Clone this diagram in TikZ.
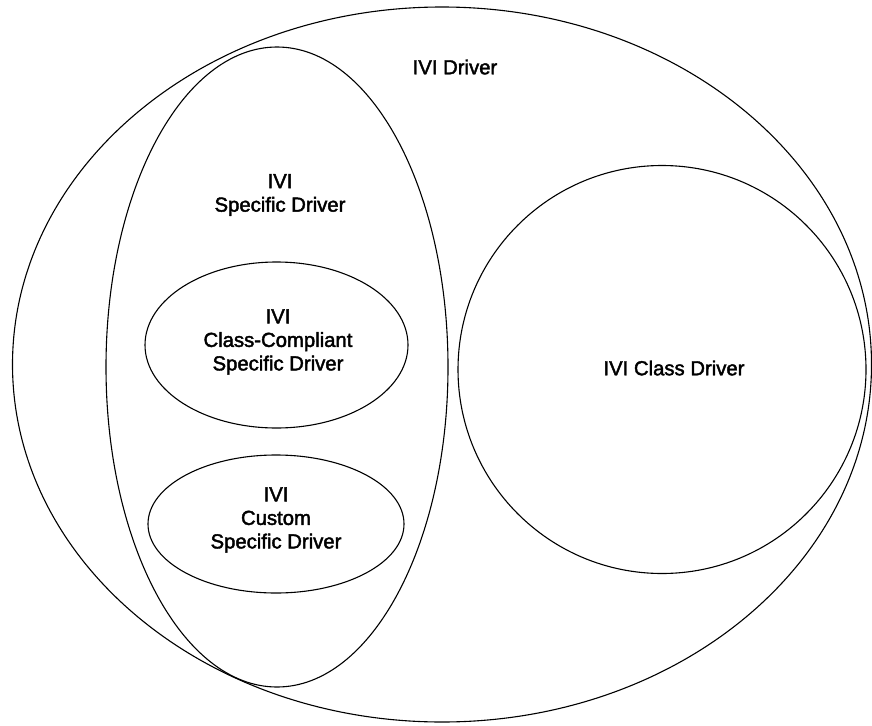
\documentclass[tikz,border=0pt]{standalone}
\usepackage{fontspec}
\setmainfont{Liberation Sans}
\newfontfamily\lblfont[FakeBold=2]{Liberation Sans}
\usetikzlibrary{shapes.geometric}
\tikzset{
  oval/.style={ellipse, draw=black, line width=1.1pt, inner sep=0pt, fill=none},
  lbl/.style={align=center, inner sep=0pt, font=\lblfont\fontsize{20.3}{23.5}\selectfont}
}
\begin{document}
\begin{tikzpicture}[x=1pt,y=-1pt]
\useasboundingbox (0,0) rectangle (872,725);
\fill[white] (0,0) rectangle (872,725);
\node[oval, minimum width=859pt, minimum height=715pt] (outer) at (442,364.5) {};
\node[oval, minimum width=342pt, minimum height=640pt] (spec) at (277,367) {};
\node[oval, minimum width=263pt, minimum height=166pt] (cc) at (276.5,345) {};
\node[oval, minimum width=256pt, minimum height=138pt] (cust) at (276,524) {};
\node[oval, minimum width=408pt, minimum height=408pt] (cls) at (662,369.5) {};
\node[lbl] (tdrv) at (455,67) {IVI Driver};
\node[lbl] (tspec) at (280,195) {IVI\\Specific Driver};
\node[lbl] (tcc) at (278,342) {IVI\\Class-Compliant\\Specific Driver};
\node[lbl] (tcust) at (276,520) {IVI\\Custom\\Specific Driver};
\node[lbl] (tcls) at (674,368) {IVI Class Driver};
\end{tikzpicture}
\end{document}
